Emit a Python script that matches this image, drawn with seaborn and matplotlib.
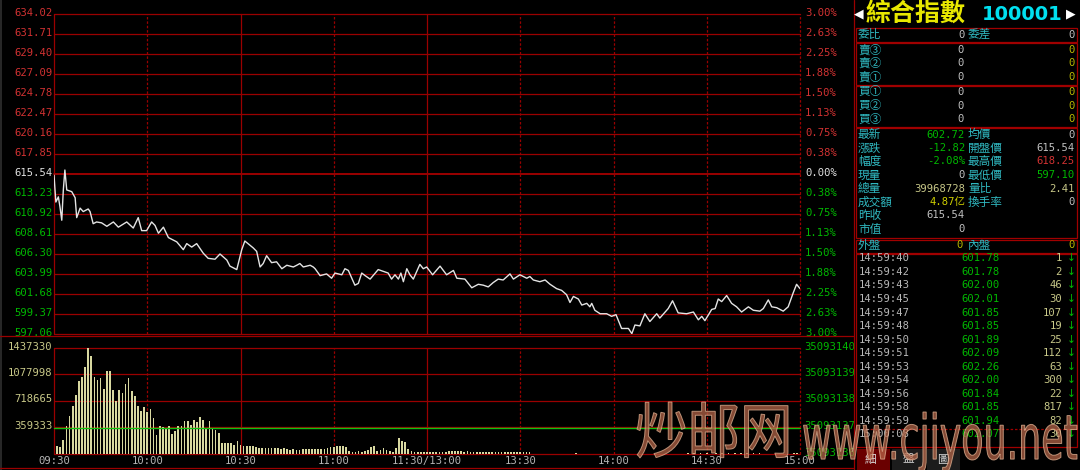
import numpy as np
import pandas as pd
import matplotlib
matplotlib.use("Agg")
import matplotlib.pyplot as plt
import seaborn as sns
from matplotlib.textpath import TextPath
from matplotlib.patches import PathPatch, Rectangle
from matplotlib.font_manager import FontProperties
from matplotlib.transforms import Affine2D, ScaledTranslation

# ---------------- data ----------------
price_minutes = [0.0, 0.6, 1.4, 1.9, 2.5, 3.0, 3.5, 4.1, 5.7, 6.8,
                 7.3, 8.4, 9.4, 11.0, 11.6, 12.6, 13.7, 15.3, 17.0, 19.1,
                 20.7, 23.4, 25.5, 27.1, 28.2, 29.8, 31.4, 32.5, 33.6, 35.2,
                 36.8, 39.5, 41.6, 42.7, 44.3, 45.9, 48.0, 49.6, 51.8, 53.4,
                 55.6, 56.6, 58.8, 60.4, 61.4, 64.1, 65.2, 66.3, 67.3, 68.4,
                 70.0, 71.6, 73.3, 74.9, 77.0, 78.1, 79.1, 80.2, 82.4, 83.4,
                 84.0, 85.6, 87.7, 89.3, 90.4, 92.6, 93.6, 94.7, 96.8, 97.9,
                 99.0, 100.1, 101.7, 104.3, 107.5, 108.6, 109.7, 110.8, 111.6, 112.4,
                 113.5, 114.5, 115.6, 117.7, 118.8, 119.9, 121.8, 124.2, 126.3, 128.5,
                 129.6, 132.2, 134.4, 136.5, 138.1, 139.7, 141.3, 142.9, 144.5, 146.7,
                 147.8, 149.9, 152.1, 153.1, 154.2, 156.3, 158.0, 159.6, 161.7, 163.3,
                 164.9, 166.0, 167.1, 168.7, 169.8, 171.4, 172.4, 173.0, 174.0, 175.7,
                 177.8, 179.4, 180.8, 182.6, 184.8, 185.9, 186.9, 188.5, 190.1, 191.7,
                 193.9, 194.9, 197.6, 199.0, 200.8, 203.5, 205.7, 207.3, 208.4, 209.4,
                 211.6, 212.7, 213.7, 214.8, 216.4, 218.0, 219.6, 221.2, 223.4, 225.0,
                 227.1, 228.2, 229.8, 230.9, 232.5, 234.6, 236.2, 237.8, 238.9, 240.0]
price_values = [615.4, 612.3, 612.9, 611.8, 610.2, 613.7, 616.0, 613.7, 613.5, 612.8,
                610.5, 611.6, 611.2, 611.5, 611.2, 609.8, 610.0, 609.9, 609.5, 610.0,
                609.4, 610.0, 609.3, 610.5, 609.0, 609.0, 610.0, 609.6, 608.7, 609.4,
                608.2, 607.7, 606.8, 607.5, 607.1, 607.5, 606.4, 605.8, 605.7, 606.3,
                605.6, 604.9, 604.5, 606.8, 607.8, 607.0, 606.6, 604.8, 605.2, 606.1,
                605.3, 605.4, 604.6, 605.0, 604.8, 605.0, 605.2, 604.8, 605.0, 604.8,
                604.6, 603.8, 604.0, 603.5, 604.1, 603.9, 604.6, 604.4, 602.7, 602.9,
                604.1, 603.8, 603.4, 604.5, 604.1, 603.4, 603.9, 603.4, 604.1, 603.1,
                604.6, 603.9, 603.4, 605.1, 604.6, 604.8, 603.9, 604.9, 603.9, 604.4,
                603.5, 603.4, 602.4, 602.8, 602.7, 602.5, 603.0, 603.4, 603.3, 604.0,
                603.4, 603.9, 603.5, 603.7, 603.3, 603.1, 603.3, 602.8, 602.3, 602.1,
                601.6, 600.7, 601.4, 601.1, 600.4, 600.6, 600.2, 600.6, 599.8, 599.4,
                599.4, 599.1, 599.3, 597.7, 597.7, 597.1, 598.1, 598.0, 599.4, 598.5,
                599.4, 598.9, 600.0, 600.9, 599.5, 599.4, 599.6, 598.7, 599.1, 598.6,
                599.9, 600.0, 601.1, 600.8, 601.5, 600.6, 600.2, 599.6, 600.2, 599.8,
                599.7, 600.0, 601.0, 600.2, 600.1, 599.7, 600.2, 601.8, 602.8, 602.3]

volume_minutes = list(range(1, 241))
volume_thousands = [104, 95, 194, 384, 520, 655, 805, 985, 1044, 1175,
                    1437, 1333, 1044, 1008, 1030, 881, 1121, 1121, 863, 723,
                    872, 827, 949, 1030, 850, 791, 646, 588, 633, 565,
                    610, 488, 262, 384, 366, 339, 375, 276, 307, 384,
                    384, 452, 452, 398, 466, 429, 497, 457, 353, 443,
                    353, 330, 285, 149, 149, 149, 149, 127, 181, 127,
                    113, 104, 104, 113, 95, 81, 81, 81, 81, 86,
                    81, 86, 68, 77, 68, 59, 68, 59, 59, 72,
                    68, 72, 68, 72, 64, 72, 68, 77, 95, 95,
                    104, 113, 104, 95, 36, 23, 23, 45, 23, 36,
                    59, 95, 104, 36, 59, 81, 59, 36, 23, 81,
                    217, 172, 158, 68, 36, 27, 27, 23, 27, 23,
                    23, 23, 23, 23, 23, 23, 45, 45, 45, 45,
                    45, 27, 36, 27, 23, 27, 23, 27, 23, 27,
                    23, 27, 23, 27, 23, 27, 23, 27, 23, 23,
                    27, 23, 27, 0, 0, 0, 0, 0, 0, 0,
                    0, 0, 0, 0, 0, 0, 0, 14, 0, 0,
                    0, 0, 0, 0, 0, 0, 0, 0, 0, 0,
                    0, 0, 0, 0, 0, 0, 0, 0, 0, 0,
                    0, 0, 0, 0, 0, 0, 0, 0, 0, 0,
                    0, 0, 0, 14, 0, 14, 0, 14, 0, 14,
                    0, 0, 14, 0, 14, 0, 14, 0, 14, 0,
                    14, 0, 14, 0, 14, 0, 14, 0, 0, 0,
                    0, 0, 0, 0, 0, 0, 0, 14, 14, 0]

prev_close = 615.54
price_ticks = [634.02, 631.71, 629.40, 627.09, 624.78, 622.47, 620.16, 617.85, 615.54,
               613.23, 610.92, 608.61, 606.30, 603.99, 601.68, 599.37, 597.06]
pct_labels = ["3.00%", "2.63%", "2.25%", "1.88%", "1.50%", "1.13%", "0.75%", "0.38%", "0.00%",
              "0.38%", "0.75%", "1.13%", "1.50%", "1.88%", "2.25%", "2.63%", "3.00%"]
vol_ticks = [1437330, 1077998, 718665, 359333]
vol_right_ticks = [1437330, 1077998, 718665, 359333, 0]
vol_right_labels = ["35093140", "35093139", "35093138", "35093137", "35093136"]
avg_volume_level = 355000
time_ticks = [0, 30, 60, 90, 120, 150, 180, 210, 240]
time_labels = ["09:30", "10:00", "10:30", "11:00", "11:30/13:00", "13:30", "14:00", "14:30", "15:00"]
solid_times = [0, 60, 120]

title_name = "綜合指數"
title_code = "100001"
ratio_labels = ["委比", "委差"]
ratio_values = ["0", "0"]
sell_labels = ["賣③", "賣②", "賣①"]
buy_labels = ["買①", "買②", "買③"]
quote_left_labels = ["最新", "漲跌", "幅度", "現量", "總量", "成交額", "昨收", "市值"]
quote_left_values = ["602.72", "-12.82", "-2.08%", "0", "39968728", "4.87亿", "615.54", "0"]
quote_right_labels = ["均價", "開盤價", "最高價", "最低價", "量比", "換手率"]
quote_right_values = ["0", "615.54", "618.25", "597.10", "2.41", "0"]
tick_times = ["14:59:40", "14:59:42", "14:59:43", "14:59:45", "14:59:47", "14:59:48", "14:59:50",
              "14:59:51", "14:59:53", "14:59:54", "14:59:56", "14:59:58", "14:59:59", "15:00:08"]
tick_prices = ["601.78", "601.78", "602.00", "602.01", "601.85", "601.85", "601.89",
               "602.09", "602.26", "602.00", "601.84", "601.85", "601.94", "602.07"]
tick_vols = ["1", "2", "46", "30", "107", "19", "25", "112", "63", "300", "22", "817", "82", "30"]
tab_labels = ["細", "盤", "圖"]

# ---------------- style ----------------
sns.set_theme(style="dark", rc={"axes.facecolor": "black", "figure.facecolor": "black"})
plt.rcParams['font.family'] = ['DejaVu Sans', 'Noto Sans CJK TC']

GRID = '#9a0000'
RED = '#d23232'
GREEN = '#00b800'
WHITE = '#e0e0e0'
GRAY = '#c0c0c0'
CYAN = '#30b8c0'
YEL0 = '#b8b800'
OLIVE = '#c8c888'
MONO = ['DejaVu Sans Mono', 'Noto Sans CJK TC']
CJK = ['Noto Sans CJK TC', 'DejaVu Sans']

W, H = 1080, 470
fig = plt.figure(figsize=(W / 100, H / 100), dpi=100)


def px_rect(x0, y0, x1, y1):
    return [x0 / W, (H - y1) / H, (x1 - x0) / W, (y1 - y0) / H]


# ---------------- price panel ----------------
axp = fig.add_axes(px_rect(54, 14, 800, 334))
axp.set_facecolor('black')
for s in axp.spines.values():
    s.set_visible(False)
axp.set_xlim(0, 240)
axp.set_ylim(597.06, 634.02)
for v in price_ticks:
    axp.axhline(v, color=GRID, lw=1.4 if v == prev_close else 0.9, clip_on=False, zorder=1)
for t in time_ticks:
    if t in solid_times:
        axp.axvline(t, color=GRID, lw=0.9, clip_on=False, zorder=1)
    else:
        axp.axvline(t, color=GRID, lw=0.9, ls=(0, (2, 1.5)), clip_on=False, zorder=1)

price_df = pd.DataFrame({"minute": price_minutes, "price": price_values})
sns.lineplot(data=price_df, x="minute", y="price", ax=axp, color='#e4e4e4', lw=1.0,
             estimator=None, sort=False, zorder=3)
axp.set_xlabel('')
axp.set_ylabel('')
axp.set_xticks([])
axp.set_yticks(price_ticks)
axp.set_yticklabels([f"{v:.2f}" for v in price_ticks], family=MONO, fontsize=7.6)
axp.tick_params(axis='y', length=0, pad=1.0)
shift = ScaledTranslation(0, 0.025, fig.dpi_scale_trans)
for lab_, v in zip(axp.get_yticklabels(), price_ticks):
    lab_.set_color(WHITE if v == prev_close else (RED if v > prev_close else GREEN))
    lab_.set_transform(lab_.get_transform() + shift)

axr = axp.twinx()
for s in axr.spines.values():
    s.set_visible(False)
axr.set_ylim(axp.get_ylim())
axr.set_yticks(price_ticks)
axr.set_yticklabels(pct_labels, family=MONO, fontsize=7.6)
axr.tick_params(axis='y', length=0, pad=3.6)
axr.grid(False)
for lab_, v in zip(axr.get_yticklabels(), price_ticks):
    lab_.set_color(WHITE if v == prev_close else (RED if v > prev_close else GREEN))
    lab_.set_transform(lab_.get_transform() + shift)

# ---------------- volume panel ----------------
axv = fig.add_axes(px_rect(54, 348, 800, 454))
axv.set_facecolor('black')
for s in axv.spines.values():
    s.set_visible(False)
for v in vol_ticks + [0]:
    axv.axhline(v, color=GRID, lw=0.9, clip_on=False, zorder=1)
for t in time_ticks:
    if t in solid_times:
        axv.axvline(t, color=GRID, lw=0.9, clip_on=False, zorder=1)
    else:
        axv.axvline(t, color=GRID, lw=0.9, ls=(0, (2, 1.5)), clip_on=False, zorder=1)

vol_df = pd.DataFrame({"minute": volume_minutes,
                       "volume": np.array(volume_thousands) * 1000})
sns.barplot(data=vol_df, x="minute", y="volume", ax=axv, native_scale=True, width=0.55,
            color='#d8d8a0', saturation=1, errorbar=None, linewidth=0, zorder=2)
axv.axhline(avg_volume_level, color='#10c010', lw=1.0, zorder=3, clip_on=False)
axv.set_xlim(0, 240)
axv.set_ylim(0, 1437330)
axv.set_xlabel('')
axv.set_ylabel('')
axv.set_xticks(time_ticks)
axv.set_xticklabels(time_labels, family=MONO, fontsize=7.6, color='#b4b4b4')
axv.set_yticks(vol_ticks)
axv.set_yticklabels([str(v) for v in vol_ticks], family=MONO, fontsize=7.6, color=OLIVE)
axv.tick_params(axis='both', length=0)
axv.tick_params(axis='y', pad=1.0)
axv.tick_params(axis='x', pad=1.2)
for lab_ in axv.get_yticklabels():
    lab_.set_transform(lab_.get_transform() + shift)

axvr = axv.twinx()
for s in axvr.spines.values():
    s.set_visible(False)
axvr.set_ylim(axv.get_ylim())
axvr.set_yticks(vol_right_ticks)
axvr.set_yticklabels(vol_right_labels, family=MONO, fontsize=7.6, color=GREEN)
axvr.tick_params(axis='y', length=0, pad=2.8)
axvr.grid(False)
for lab_ in axvr.get_yticklabels():
    lab_.set_transform(lab_.get_transform() + shift)

# ---------------- overlay (frame + quote panel) ----------------
ov = fig.add_axes([0, 0, 1, 1])
ov.set_xlim(0, W)
ov.set_ylim(H, 0)
ov.axis('off')
ov.patch.set_alpha(0)

ov.plot([1, 1], [0, H], color='#303030', lw=1.2)
ov.plot([0, 853], [335.5, 335.5], color=GRID, lw=0.9)
ov.plot([0, 853], [468, 468], color=GRID, lw=0.9)
ov.plot([853.5, 853.5], [0, H], color=GRID, lw=0.9)

# title
ov.text(859, 14, "◀", color='white', fontsize=9, ha='center', va='center', family=['DejaVu Sans'])
ov.text(866, 14, title_name, color='#e8e800', fontsize=18, fontweight='bold', ha='left', va='center', family=CJK)
ov.text(1063, 14.5, title_code, color='#00e0f0', fontsize=14, fontweight='bold', ha='right', va='center', family=['DejaVu Sans'])
ov.text(1071, 14, "▶", color='white', fontsize=9, ha='center', va='center', family=['DejaVu Sans'])

BOX = '#a00000'
for (y0, y1) in [(28, 42), (43, 84.5), (86, 127), (128, 238), (239.5, 253), (254, 447)]:
    ov.add_patch(Rectangle((856, y0), 1077 - 856, y1 - y0, fill=False, ec=BOX, lw=0.9))
ov.plot([857, 1077], [429, 429], color=BOX, lw=0.9, ls=(0, (2, 1.5)))

LX, VR, LX2, VR2 = 858, 965, 968, 1075
FS = 7.6
FSC = 8.4


def lab(x, y, s, color=CYAN, ha='left'):
    ov.text(x, y, s, color=color, fontsize=FSC, ha=ha, va='center', family=CJK)


def num(x, y, s, color=GRAY, ha='right'):
    ov.text(x, y, s, color=color, fontsize=FS, ha=ha, va='center', family=MONO)


# box 1
lab(LX, 34.5, ratio_labels[0]); num(VR, 34.5, ratio_values[0])
lab(LX2, 34.5, ratio_labels[1]); num(VR2, 34.5, ratio_values[1])
# box 2 / 3
for i, s in enumerate(sell_labels):
    y = 50 + i * 13.4
    lab(LX, y, s); num(VR - 1, y, "0"); num(VR2, y, "0", color=YEL0)
for i, s in enumerate(buy_labels):
    y = 92 + i * 13.6
    lab(LX, y, s); num(VR - 1, y, "0"); num(VR2, y, "0", color=YEL0)
# box 4
left_colors = [GREEN, GREEN, GREEN, GRAY, OLIVE, '#d0d000', GRAY, GRAY]
right_colors = [GRAY, GRAY, RED, GREEN, OLIVE, GRAY]
for i, (s, v, c) in enumerate(zip(quote_left_labels, quote_left_values, left_colors)):
    y = 134.5 + i * 13.5
    lab(LX, y, s)
    num(VR, y, v, color=c)
for i, (s, v, c) in enumerate(zip(quote_right_labels, quote_right_values, right_colors)):
    y = 134.5 + i * 13.5
    lab(LX2, y, s)
    num(VR2, y, v, color=c)
# box 5
lab(LX, 245.5, "外盤"); num(VR - 2, 245.5, "0", color=YEL0)
lab(LX2, 245.5, "內盤"); num(VR2, 245.5, "0", color=YEL0)
# tick list
for i, (t, p, v) in enumerate(zip(tick_times, tick_prices, tick_vols)):
    y = 258.3 + i * 13.55
    num(859, y, t, color='#b8b8b8', ha='left')
    num(961, y, p, color=GREEN, ha='left')
    num(1062, y, v, color=OLIVE)
    ov.text(1071, y, "↓", color=GREEN, fontsize=FS, ha='center', va='center', family=['DejaVu Sans'])
# tabs
ov.add_patch(Rectangle((857, 449), 33, 21, color='#6a0000', lw=0))
ov.add_patch(Rectangle((892, 449), 33, 21, color='#1c1c1c', lw=0))
ov.add_patch(Rectangle((927, 449), 33, 21, color='#1c1c1c', lw=0))
for x, s in zip([870, 908, 943], tab_labels):
    ov.text(x, 459, s, color='#d8d8d8', fontsize=FSC, ha='center', va='center', family=CJK)


# ---------------- watermark ----------------
def fitted_text(s, family, x0, x1, y0, y1, weight='normal'):
    tp = TextPath((0, 0), s, size=10, prop=FontProperties(family=family, weight=weight))
    verts = tp.vertices
    bx0, by0 = verts.min(0)
    bx1, by1 = verts.max(0)
    sx = (x1 - x0) / (bx1 - bx0)
    sy = (y1 - y0) / (by1 - by0)
    tr = Affine2D().translate(-bx0, -by1).scale(sx, -sy).translate(x0, y0)
    ov.add_patch(PathPatch(tr.transform_path(tp), fc='#b8684a', ec='#e8b898', lw=0.7,
                           alpha=0.72, zorder=10))


fitted_text("炒邮网", 'Noto Sans CJK SC', 635, 788, 402, 458, weight='medium')
fitted_text("www.cjiyou.net", 'DejaVu Sans', 802, 1077, 412, 472)

fig.savefig("out.png", dpi=100, facecolor='black')
